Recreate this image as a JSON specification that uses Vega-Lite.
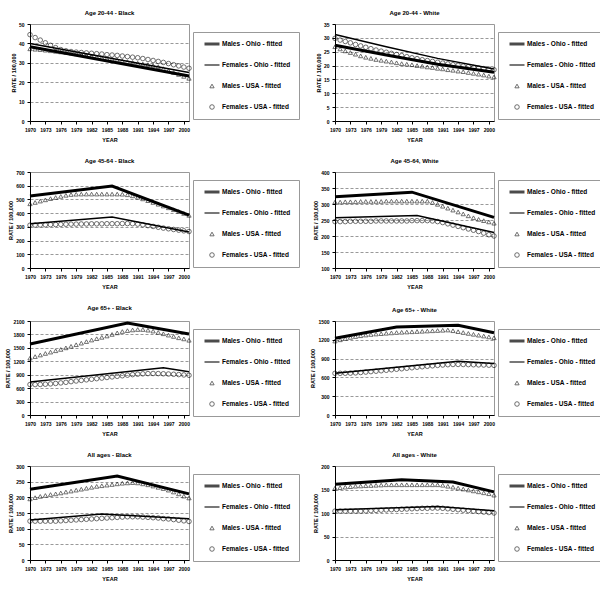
{
  "$schema": "https://vega.github.io/schema/vega-lite/v6.json",
  "padding": {"left": 5, "top": 9, "right": 2, "bottom": 2},
  "columns": 2,
  "spacing": {"row": 14, "column": 10},
  "align": "each",
  "datasets": {
    "ohio": [
      {"p":1,"year":1970,"s":"mo","r":38.3},{"p":1,"year":2001,"s":"mo","r":23.2},
      {"p":1,"year":1970,"s":"fo","r":40.0},{"p":1,"year":2001,"s":"fo","r":25.0},
      {"p":2,"year":1970,"s":"fo","r":31.2},{"p":2,"year":1980,"s":"fo","r":26.8},{"p":2,"year":1990,"s":"fo","r":22.6},{"p":2,"year":2001,"s":"fo","r":18.8},
      {"p":2,"year":1970,"s":"mo","r":27.3},{"p":2,"year":1980,"s":"mo","r":23.8},{"p":2,"year":1990,"s":"mo","r":20.5},{"p":2,"year":2001,"s":"mo","r":17.6},
      {"p":3,"year":1970,"s":"mo","r":525},{"p":3,"year":1986,"s":"mo","r":597},{"p":3,"year":2001,"s":"mo","r":385},
      {"p":3,"year":1970,"s":"fo","r":322},{"p":3,"year":1986,"s":"fo","r":372},{"p":3,"year":2001,"s":"fo","r":262},
      {"p":4,"year":1970,"s":"mo","r":323},{"p":4,"year":1985,"s":"mo","r":337},{"p":4,"year":2001,"s":"mo","r":258},
      {"p":4,"year":1970,"s":"fo","r":257},{"p":4,"year":1986,"s":"fo","r":264},{"p":4,"year":2001,"s":"fo","r":211},
      {"p":5,"year":1970,"s":"mo","r":1585},{"p":5,"year":1989,"s":"mo","r":2055},{"p":5,"year":2001,"s":"mo","r":1810},
      {"p":5,"year":1970,"s":"fo","r":735},{"p":5,"year":1996,"s":"fo","r":1057},{"p":5,"year":2001,"s":"fo","r":965},
      {"p":6,"year":1970,"s":"mo","r":1225},{"p":6,"year":1982,"s":"mo","r":1405},{"p":6,"year":1994,"s":"mo","r":1432},{"p":6,"year":2001,"s":"mo","r":1312},
      {"p":6,"year":1970,"s":"fo","r":668},{"p":6,"year":1994,"s":"fo","r":858},{"p":6,"year":2001,"s":"fo","r":822},
      {"p":7,"year":1970,"s":"mo","r":226},{"p":7,"year":1987,"s":"mo","r":268},{"p":7,"year":2001,"s":"mo","r":211},
      {"p":7,"year":1970,"s":"fo","r":128},{"p":7,"year":1984,"s":"fo","r":147},{"p":7,"year":2001,"s":"fo","r":132},
      {"p":8,"year":1970,"s":"mo","r":161},{"p":8,"year":1983,"s":"mo","r":171},{"p":8,"year":1993,"s":"mo","r":166},{"p":8,"year":2001,"s":"mo","r":145},
      {"p":8,"year":1970,"s":"fo","r":107},{"p":8,"year":1990,"s":"fo","r":114},{"p":8,"year":2001,"s":"fo","r":105}
    ],
    "usa": [
      {"p":1,"year":1970,"mu":37.2,"fu":44.5},{"p":1,"year":1971,"mu":37.0,"fu":43.0},{"p":1,"year":1972,"mu":36.8,"fu":41.7},{"p":1,"year":1973,"mu":36.5,"fu":40.3},
      {"p":1,"year":1974,"mu":36.2,"fu":39.0},{"p":1,"year":1975,"mu":35.9,"fu":37.8},{"p":1,"year":1976,"mu":35.6,"fu":36.8},{"p":1,"year":1977,"mu":35.3,"fu":36.2},
      {"p":1,"year":1978,"mu":35.0,"fu":35.8},{"p":1,"year":1979,"mu":34.6,"fu":35.5},{"p":1,"year":1980,"mu":34.2,"fu":35.3},{"p":1,"year":1981,"mu":33.8,"fu":35.1},
      {"p":1,"year":1982,"mu":33.4,"fu":34.9},{"p":1,"year":1983,"mu":33.0,"fu":34.7},{"p":1,"year":1984,"mu":32.6,"fu":34.5},{"p":1,"year":1985,"mu":32.2,"fu":34.2},
      {"p":1,"year":1986,"mu":31.8,"fu":34.0},{"p":1,"year":1987,"mu":31.4,"fu":33.8},{"p":1,"year":1988,"mu":31.0,"fu":33.5},{"p":1,"year":1989,"mu":30.6,"fu":33.2},
      {"p":1,"year":1990,"mu":30.2,"fu":32.9},{"p":1,"year":1991,"mu":29.8,"fu":32.6},{"p":1,"year":1992,"mu":29.4,"fu":32.2},{"p":1,"year":1993,"mu":29.0,"fu":31.7},
      {"p":1,"year":1994,"mu":28.6,"fu":31.2},{"p":1,"year":1995,"mu":28.0,"fu":30.7},{"p":1,"year":1996,"mu":27.0,"fu":30.2},{"p":1,"year":1997,"mu":26.0,"fu":29.6},
      {"p":1,"year":1998,"mu":25.0,"fu":29.0},{"p":1,"year":1999,"mu":24.0,"fu":28.4},{"p":1,"year":2000,"mu":23.0,"fu":27.8},{"p":1,"year":2001,"mu":22.0,"fu":27.2},

      {"p":2,"year":1970,"mu":26.8,"fu":29.8},{"p":2,"year":1971,"mu":26.0,"fu":29.2},{"p":2,"year":1972,"mu":25.3,"fu":28.7},{"p":2,"year":1973,"mu":24.7,"fu":28.2},
      {"p":2,"year":1974,"mu":24.1,"fu":27.6},{"p":2,"year":1975,"mu":23.5,"fu":27.1},{"p":2,"year":1976,"mu":23.0,"fu":26.6},{"p":2,"year":1977,"mu":22.6,"fu":26.1},
      {"p":2,"year":1978,"mu":22.2,"fu":25.6},{"p":2,"year":1979,"mu":21.9,"fu":25.2},{"p":2,"year":1980,"mu":21.6,"fu":24.8},{"p":2,"year":1981,"mu":21.3,"fu":24.4},
      {"p":2,"year":1982,"mu":21.0,"fu":24.0},{"p":2,"year":1983,"mu":20.7,"fu":23.6},{"p":2,"year":1984,"mu":20.5,"fu":23.2},{"p":2,"year":1985,"mu":20.3,"fu":22.8},
      {"p":2,"year":1986,"mu":20.0,"fu":22.5},{"p":2,"year":1987,"mu":19.8,"fu":22.1},{"p":2,"year":1988,"mu":19.5,"fu":21.8},{"p":2,"year":1989,"mu":19.3,"fu":21.5},
      {"p":2,"year":1990,"mu":19.0,"fu":21.2},{"p":2,"year":1991,"mu":18.8,"fu":20.9},{"p":2,"year":1992,"mu":18.5,"fu":20.6},{"p":2,"year":1993,"mu":18.3,"fu":20.3},
      {"p":2,"year":1994,"mu":18.0,"fu":20.1},{"p":2,"year":1995,"mu":17.8,"fu":19.8},{"p":2,"year":1996,"mu":17.5,"fu":19.6},{"p":2,"year":1997,"mu":17.2,"fu":19.3},
      {"p":2,"year":1998,"mu":16.9,"fu":19.1},{"p":2,"year":1999,"mu":16.6,"fu":18.9},{"p":2,"year":2000,"mu":16.2,"fu":18.7},{"p":2,"year":2001,"mu":15.9,"fu":18.5},

      {"p":3,"year":1970,"mu":468,"fu":312},{"p":3,"year":1971,"mu":478,"fu":313},{"p":3,"year":1972,"mu":488,"fu":314},{"p":3,"year":1973,"mu":497,"fu":315},
      {"p":3,"year":1974,"mu":506,"fu":316},{"p":3,"year":1975,"mu":514,"fu":317},{"p":3,"year":1976,"mu":522,"fu":318},{"p":3,"year":1977,"mu":530,"fu":319},
      {"p":3,"year":1978,"mu":536,"fu":320},{"p":3,"year":1979,"mu":538,"fu":320},{"p":3,"year":1980,"mu":539,"fu":321},{"p":3,"year":1981,"mu":539,"fu":321},
      {"p":3,"year":1982,"mu":539,"fu":322},{"p":3,"year":1983,"mu":539,"fu":322},{"p":3,"year":1984,"mu":539,"fu":322},{"p":3,"year":1985,"mu":539,"fu":323},
      {"p":3,"year":1986,"mu":539,"fu":323},{"p":3,"year":1987,"mu":539,"fu":323},{"p":3,"year":1988,"mu":538,"fu":324},{"p":3,"year":1989,"mu":534,"fu":324},
      {"p":3,"year":1990,"mu":526,"fu":323},{"p":3,"year":1991,"mu":516,"fu":320},{"p":3,"year":1992,"mu":504,"fu":315},{"p":3,"year":1993,"mu":491,"fu":309},
      {"p":3,"year":1994,"mu":478,"fu":303},{"p":3,"year":1995,"mu":465,"fu":297},{"p":3,"year":1996,"mu":452,"fu":291},{"p":3,"year":1997,"mu":439,"fu":286},
      {"p":3,"year":1998,"mu":425,"fu":281},{"p":3,"year":1999,"mu":412,"fu":276},{"p":3,"year":2000,"mu":398,"fu":271},{"p":3,"year":2001,"mu":384,"fu":266},

      {"p":4,"year":1970,"mu":306,"fu":245},{"p":4,"year":1971,"mu":306,"fu":245},{"p":4,"year":1972,"mu":307,"fu":245},{"p":4,"year":1973,"mu":307,"fu":246},
      {"p":4,"year":1974,"mu":307,"fu":246},{"p":4,"year":1975,"mu":308,"fu":246},{"p":4,"year":1976,"mu":308,"fu":246},{"p":4,"year":1977,"mu":308,"fu":246},
      {"p":4,"year":1978,"mu":308,"fu":247},{"p":4,"year":1979,"mu":308,"fu":247},{"p":4,"year":1980,"mu":309,"fu":247},{"p":4,"year":1981,"mu":309,"fu":247},
      {"p":4,"year":1982,"mu":309,"fu":247},{"p":4,"year":1983,"mu":309,"fu":247},{"p":4,"year":1984,"mu":309,"fu":247},{"p":4,"year":1985,"mu":309,"fu":248},
      {"p":4,"year":1986,"mu":309,"fu":248},{"p":4,"year":1987,"mu":309,"fu":248},{"p":4,"year":1988,"mu":309,"fu":248},{"p":4,"year":1989,"mu":305,"fu":247},
      {"p":4,"year":1990,"mu":299,"fu":245},{"p":4,"year":1991,"mu":293,"fu":242},{"p":4,"year":1992,"mu":287,"fu":238},{"p":4,"year":1993,"mu":281,"fu":234},
      {"p":4,"year":1994,"mu":275,"fu":230},{"p":4,"year":1995,"mu":269,"fu":226},{"p":4,"year":1996,"mu":263,"fu":222},{"p":4,"year":1997,"mu":257,"fu":218},
      {"p":4,"year":1998,"mu":252,"fu":214},{"p":4,"year":1999,"mu":248,"fu":209},{"p":4,"year":2000,"mu":244,"fu":204},{"p":4,"year":2001,"mu":240,"fu":200},

      {"p":5,"year":1970,"mu":1270,"fu":680},{"p":5,"year":1971,"mu":1305,"fu":680},{"p":5,"year":1972,"mu":1340,"fu":683},{"p":5,"year":1973,"mu":1375,"fu":688},
      {"p":5,"year":1974,"mu":1405,"fu":695},{"p":5,"year":1975,"mu":1435,"fu":705},{"p":5,"year":1976,"mu":1465,"fu":717},{"p":5,"year":1977,"mu":1500,"fu":730},
      {"p":5,"year":1978,"mu":1535,"fu":745},{"p":5,"year":1979,"mu":1570,"fu":760},{"p":5,"year":1980,"mu":1605,"fu":773},{"p":5,"year":1981,"mu":1640,"fu":786},
      {"p":5,"year":1982,"mu":1675,"fu":799},{"p":5,"year":1983,"mu":1705,"fu":812},{"p":5,"year":1984,"mu":1735,"fu":825},{"p":5,"year":1985,"mu":1765,"fu":838},
      {"p":5,"year":1986,"mu":1800,"fu":851},{"p":5,"year":1987,"mu":1835,"fu":864},{"p":5,"year":1988,"mu":1865,"fu":877},{"p":5,"year":1989,"mu":1885,"fu":890},
      {"p":5,"year":1990,"mu":1900,"fu":902},{"p":5,"year":1991,"mu":1910,"fu":912},{"p":5,"year":1992,"mu":1910,"fu":920},{"p":5,"year":1993,"mu":1895,"fu":925},
      {"p":5,"year":1994,"mu":1875,"fu":927},{"p":5,"year":1995,"mu":1845,"fu":925},{"p":5,"year":1996,"mu":1815,"fu":921},{"p":5,"year":1997,"mu":1785,"fu":916},
      {"p":5,"year":1998,"mu":1755,"fu":910},{"p":5,"year":1999,"mu":1725,"fu":903},{"p":5,"year":2000,"mu":1700,"fu":895},{"p":5,"year":2001,"mu":1670,"fu":887},

      {"p":6,"year":1970,"mu":1180,"fu":665},{"p":6,"year":1971,"mu":1200,"fu":665},{"p":6,"year":1972,"mu":1220,"fu":666},{"p":6,"year":1973,"mu":1238,"fu":668},
      {"p":6,"year":1974,"mu":1252,"fu":672},{"p":6,"year":1975,"mu":1265,"fu":678},{"p":6,"year":1976,"mu":1276,"fu":685},{"p":6,"year":1977,"mu":1285,"fu":692},
      {"p":6,"year":1978,"mu":1292,"fu":699},{"p":6,"year":1979,"mu":1298,"fu":706},{"p":6,"year":1980,"mu":1304,"fu":714},{"p":6,"year":1981,"mu":1310,"fu":722},
      {"p":6,"year":1982,"mu":1316,"fu":730},{"p":6,"year":1983,"mu":1320,"fu":738},{"p":6,"year":1984,"mu":1324,"fu":746},{"p":6,"year":1985,"mu":1328,"fu":754},
      {"p":6,"year":1986,"mu":1332,"fu":762},{"p":6,"year":1987,"mu":1336,"fu":770},{"p":6,"year":1988,"mu":1340,"fu":778},{"p":6,"year":1989,"mu":1344,"fu":785},
      {"p":6,"year":1990,"mu":1348,"fu":792},{"p":6,"year":1991,"mu":1352,"fu":798},{"p":6,"year":1992,"mu":1356,"fu":803},{"p":6,"year":1993,"mu":1345,"fu":806},
      {"p":6,"year":1994,"mu":1330,"fu":807},{"p":6,"year":1995,"mu":1316,"fu":806},{"p":6,"year":1996,"mu":1302,"fu":804},{"p":6,"year":1997,"mu":1288,"fu":802},
      {"p":6,"year":1998,"mu":1274,"fu":800},{"p":6,"year":1999,"mu":1260,"fu":798},{"p":6,"year":2000,"mu":1246,"fu":795},{"p":6,"year":2001,"mu":1232,"fu":792},

      {"p":7,"year":1970,"mu":195,"fu":124},{"p":7,"year":1971,"mu":199,"fu":124},{"p":7,"year":1972,"mu":203,"fu":124},{"p":7,"year":1973,"mu":206,"fu":124},
      {"p":7,"year":1974,"mu":209,"fu":124},{"p":7,"year":1975,"mu":211,"fu":124},{"p":7,"year":1976,"mu":214,"fu":125},{"p":7,"year":1977,"mu":217,"fu":126},
      {"p":7,"year":1978,"mu":220,"fu":127},{"p":7,"year":1979,"mu":223,"fu":128},{"p":7,"year":1980,"mu":226,"fu":129},{"p":7,"year":1981,"mu":229,"fu":130},
      {"p":7,"year":1982,"mu":232,"fu":131},{"p":7,"year":1983,"mu":235,"fu":132},{"p":7,"year":1984,"mu":237,"fu":133},{"p":7,"year":1985,"mu":239,"fu":134},
      {"p":7,"year":1986,"mu":241,"fu":135},{"p":7,"year":1987,"mu":243,"fu":136},{"p":7,"year":1988,"mu":245,"fu":137},{"p":7,"year":1989,"mu":246,"fu":138},
      {"p":7,"year":1990,"mu":247,"fu":138},{"p":7,"year":1991,"mu":246,"fu":138},{"p":7,"year":1992,"mu":243,"fu":137},{"p":7,"year":1993,"mu":240,"fu":136},
      {"p":7,"year":1994,"mu":236,"fu":135},{"p":7,"year":1995,"mu":232,"fu":134},{"p":7,"year":1996,"mu":228,"fu":132},{"p":7,"year":1997,"mu":223,"fu":131},
      {"p":7,"year":1998,"mu":217,"fu":129},{"p":7,"year":1999,"mu":211,"fu":127},{"p":7,"year":2000,"mu":204,"fu":125},{"p":7,"year":2001,"mu":198,"fu":123},

      {"p":8,"year":1970,"mu":153,"fu":104},{"p":8,"year":1971,"mu":154,"fu":104},{"p":8,"year":1972,"mu":155,"fu":104},{"p":8,"year":1973,"mu":156,"fu":104},
      {"p":8,"year":1974,"mu":157,"fu":104},{"p":8,"year":1975,"mu":157.5,"fu":104},{"p":8,"year":1976,"mu":158,"fu":104.5},{"p":8,"year":1977,"mu":158.5,"fu":105},
      {"p":8,"year":1978,"mu":159,"fu":105.5},{"p":8,"year":1979,"mu":159.5,"fu":106},{"p":8,"year":1980,"mu":160,"fu":106.5},{"p":8,"year":1981,"mu":160,"fu":107},
      {"p":8,"year":1982,"mu":160,"fu":107.5},{"p":8,"year":1983,"mu":160,"fu":108},{"p":8,"year":1984,"mu":160,"fu":108.5},{"p":8,"year":1985,"mu":160,"fu":109},
      {"p":8,"year":1986,"mu":160,"fu":109.5},{"p":8,"year":1987,"mu":160,"fu":110},{"p":8,"year":1988,"mu":160,"fu":110},{"p":8,"year":1989,"mu":160,"fu":110.5},
      {"p":8,"year":1990,"mu":160,"fu":110.5},{"p":8,"year":1991,"mu":159,"fu":110},{"p":8,"year":1992,"mu":157,"fu":109},{"p":8,"year":1993,"mu":155,"fu":108},
      {"p":8,"year":1994,"mu":153,"fu":107},{"p":8,"year":1995,"mu":151,"fu":106},{"p":8,"year":1996,"mu":149,"fu":105},{"p":8,"year":1997,"mu":147,"fu":104},
      {"p":8,"year":1998,"mu":145,"fu":103},{"p":8,"year":1999,"mu":143,"fu":102},{"p":8,"year":2000,"mu":141,"fu":101},{"p":8,"year":2001,"mu":138,"fu":100}
    ]
  },
  "concat": [
    {
      "title": "Age 20-44 - Black", "width": 159, "height": 97,
      "encoding": {
        "x": {"field": "year", "type": "quantitative", "title": "YEAR", "scale": {"domain": [1970, 2001], "nice": false, "zero": false}, "axis": {"values": [1970,1973,1976,1979,1982,1985,1988,1991,1994,1997,2000], "format": "d"}},
        "y": {"field": "r", "type": "quantitative", "title": "RATE / 100,000", "scale": {"domain": [0, 50], "nice": false}, "axis": {"values": [0,10,20,30,40,50], "format": "d"}}
      },
      "layer": [
        {"data": {"name": "ohio"}, "transform": [{"filter": "datum.p == 1"}], "mark": {"type": "line", "color": "black"},
         "encoding": {"strokeWidth": {"field": "s", "type": "nominal", "scale": {"type": "ordinal", "domain": ["mo","fo","mu","fu"], "range": [3,1.5,0.8,0.8]}, "legend": {"title": null, "orient": "none", "legendX": 163, "legendY": 8, "labelExpr": "{'mo':'Males - Ohio - fitted','fo':'Females - Ohio - fitted','mu':'Males - USA - fitted','fu':'Females - USA - fitted'}[datum.label]"}}}},
        {"data": {"name": "usa"}, "transform": [{"filter": "datum.p == 1"}, {"fold": ["mu","fu"], "as": ["s","r"]}], "mark": {"type": "point", "filled": false, "color": "black", "strokeWidth": 0.8},
         "encoding": {
           "shape": {"field": "s", "type": "nominal", "scale": {"domain": ["mo","fo","mu","fu"], "range": ["stroke","stroke","triangle-up","circle"]}, "legend": {"title": null, "orient": "none", "legendX": 163, "legendY": 8, "labelExpr": "{'mo':'Males - Ohio - fitted','fo':'Females - Ohio - fitted','mu':'Males - USA - fitted','fu':'Females - USA - fitted'}[datum.label]"}},
           "size": {"field": "s", "type": "nominal", "scale": {"type": "ordinal", "domain": ["mo","fo","mu","fu"], "range": [225,225,18,21]}, "legend": {"title": null, "orient": "none", "legendX": 163, "legendY": 8, "labelExpr": "{'mo':'Males - Ohio - fitted','fo':'Females - Ohio - fitted','mu':'Males - USA - fitted','fu':'Females - USA - fitted'}[datum.label]"}}
         }}
      ]
    },
    {
      "title": "Age 20-44 - White", "width": 159, "height": 97,
      "encoding": {
        "x": {"field": "year", "type": "quantitative", "title": "YEAR", "scale": {"domain": [1970, 2001], "nice": false, "zero": false}, "axis": {"values": [1970,1973,1976,1979,1982,1985,1988,1991,1994,1997,2000], "format": "d"}},
        "y": {"field": "r", "type": "quantitative", "title": "RATE / 100,000", "scale": {"domain": [0, 35], "nice": false}, "axis": {"values": [0,5,10,15,20,25,30,35], "format": "d"}}
      },
      "layer": [
        {"data": {"name": "ohio"}, "transform": [{"filter": "datum.p == 2"}], "mark": {"type": "line", "color": "black"},
         "encoding": {"strokeWidth": {"field": "s", "type": "nominal", "scale": {"type": "ordinal", "domain": ["mo","fo","mu","fu"], "range": [3,1.5,0.8,0.8]}, "legend": {"title": null, "orient": "none", "legendX": 163, "legendY": 8, "labelExpr": "{'mo':'Males - Ohio - fitted','fo':'Females - Ohio - fitted','mu':'Males - USA - fitted','fu':'Females - USA - fitted'}[datum.label]"}}}},
        {"data": {"name": "usa"}, "transform": [{"filter": "datum.p == 2"}, {"fold": ["mu","fu"], "as": ["s","r"]}], "mark": {"type": "point", "filled": false, "color": "black", "strokeWidth": 0.8},
         "encoding": {
           "shape": {"field": "s", "type": "nominal", "scale": {"domain": ["mo","fo","mu","fu"], "range": ["stroke","stroke","triangle-up","circle"]}, "legend": {"title": null, "orient": "none", "legendX": 163, "legendY": 8, "labelExpr": "{'mo':'Males - Ohio - fitted','fo':'Females - Ohio - fitted','mu':'Males - USA - fitted','fu':'Females - USA - fitted'}[datum.label]"}},
           "size": {"field": "s", "type": "nominal", "scale": {"type": "ordinal", "domain": ["mo","fo","mu","fu"], "range": [225,225,18,21]}, "legend": {"title": null, "orient": "none", "legendX": 163, "legendY": 8, "labelExpr": "{'mo':'Males - Ohio - fitted','fo':'Females - Ohio - fitted','mu':'Males - USA - fitted','fu':'Females - USA - fitted'}[datum.label]"}}
         }}
      ]
    },
    {
      "title": "Age 45-64 - Black", "width": 159, "height": 96,
      "encoding": {
        "x": {"field": "year", "type": "quantitative", "title": "YEAR", "scale": {"domain": [1970, 2001], "nice": false, "zero": false}, "axis": {"values": [1970,1973,1976,1979,1982,1985,1988,1991,1994,1997,2000], "format": "d"}},
        "y": {"field": "r", "type": "quantitative", "title": "RATE / 100,000", "scale": {"domain": [0, 700], "nice": false}, "axis": {"values": [0,100,200,300,400,500,600,700], "format": "d"}}
      },
      "layer": [
        {"data": {"name": "ohio"}, "transform": [{"filter": "datum.p == 3"}], "mark": {"type": "line", "color": "black"},
         "encoding": {"strokeWidth": {"field": "s", "type": "nominal", "scale": {"type": "ordinal", "domain": ["mo","fo","mu","fu"], "range": [3,1.5,0.8,0.8]}, "legend": {"title": null, "orient": "none", "legendX": 163, "legendY": 8, "labelExpr": "{'mo':'Males - Ohio - fitted','fo':'Females - Ohio - fitted','mu':'Males - USA - fitted','fu':'Females - USA - fitted'}[datum.label]"}}}},
        {"data": {"name": "usa"}, "transform": [{"filter": "datum.p == 3"}, {"fold": ["mu","fu"], "as": ["s","r"]}], "mark": {"type": "point", "filled": false, "color": "black", "strokeWidth": 0.8},
         "encoding": {
           "shape": {"field": "s", "type": "nominal", "scale": {"domain": ["mo","fo","mu","fu"], "range": ["stroke","stroke","triangle-up","circle"]}, "legend": {"title": null, "orient": "none", "legendX": 163, "legendY": 8, "labelExpr": "{'mo':'Males - Ohio - fitted','fo':'Females - Ohio - fitted','mu':'Males - USA - fitted','fu':'Females - USA - fitted'}[datum.label]"}},
           "size": {"field": "s", "type": "nominal", "scale": {"type": "ordinal", "domain": ["mo","fo","mu","fu"], "range": [225,225,18,21]}, "legend": {"title": null, "orient": "none", "legendX": 163, "legendY": 8, "labelExpr": "{'mo':'Males - Ohio - fitted','fo':'Females - Ohio - fitted','mu':'Males - USA - fitted','fu':'Females - USA - fitted'}[datum.label]"}}
         }}
      ]
    },
    {
      "title": "Age 45-64, White", "width": 159, "height": 96,
      "encoding": {
        "x": {"field": "year", "type": "quantitative", "title": "YEAR", "scale": {"domain": [1970, 2001], "nice": false, "zero": false}, "axis": {"values": [1970,1973,1976,1979,1982,1985,1988,1991,1994,1997,2000], "format": "d"}},
        "y": {"field": "r", "type": "quantitative", "title": "RATE / 100,000", "scale": {"domain": [100, 400], "nice": false, "zero": false}, "axis": {"values": [100,150,200,250,300,350,400], "format": "d"}}
      },
      "layer": [
        {"data": {"name": "ohio"}, "transform": [{"filter": "datum.p == 4"}], "mark": {"type": "line", "color": "black"},
         "encoding": {"strokeWidth": {"field": "s", "type": "nominal", "scale": {"type": "ordinal", "domain": ["mo","fo","mu","fu"], "range": [3,1.5,0.8,0.8]}, "legend": {"title": null, "orient": "none", "legendX": 163, "legendY": 8, "labelExpr": "{'mo':'Males - Ohio - fitted','fo':'Females - Ohio - fitted','mu':'Males - USA - fitted','fu':'Females - USA - fitted'}[datum.label]"}}}},
        {"data": {"name": "usa"}, "transform": [{"filter": "datum.p == 4"}, {"fold": ["mu","fu"], "as": ["s","r"]}], "mark": {"type": "point", "filled": false, "color": "black", "strokeWidth": 0.8},
         "encoding": {
           "shape": {"field": "s", "type": "nominal", "scale": {"domain": ["mo","fo","mu","fu"], "range": ["stroke","stroke","triangle-up","circle"]}, "legend": {"title": null, "orient": "none", "legendX": 163, "legendY": 8, "labelExpr": "{'mo':'Males - Ohio - fitted','fo':'Females - Ohio - fitted','mu':'Males - USA - fitted','fu':'Females - USA - fitted'}[datum.label]"}},
           "size": {"field": "s", "type": "nominal", "scale": {"type": "ordinal", "domain": ["mo","fo","mu","fu"], "range": [225,225,18,21]}, "legend": {"title": null, "orient": "none", "legendX": 163, "legendY": 8, "labelExpr": "{'mo':'Males - Ohio - fitted','fo':'Females - Ohio - fitted','mu':'Males - USA - fitted','fu':'Females - USA - fitted'}[datum.label]"}}
         }}
      ]
    },
    {
      "title": "Age 65+ - Black", "width": 159, "height": 94,
      "encoding": {
        "x": {"field": "year", "type": "quantitative", "title": "YEAR", "scale": {"domain": [1970, 2001], "nice": false, "zero": false}, "axis": {"values": [1970,1973,1976,1979,1982,1985,1988,1991,1994,1997,2000], "format": "d"}},
        "y": {"field": "r", "type": "quantitative", "title": "RATE / 100,000", "scale": {"domain": [0, 2100], "nice": false}, "axis": {"values": [0,300,600,900,1200,1500,1800,2100], "format": "d"}}
      },
      "layer": [
        {"data": {"name": "ohio"}, "transform": [{"filter": "datum.p == 5"}], "mark": {"type": "line", "color": "black"},
         "encoding": {"strokeWidth": {"field": "s", "type": "nominal", "scale": {"type": "ordinal", "domain": ["mo","fo","mu","fu"], "range": [3,1.5,0.8,0.8]}, "legend": {"title": null, "orient": "none", "legendX": 163, "legendY": 8, "labelExpr": "{'mo':'Males - Ohio - fitted','fo':'Females - Ohio - fitted','mu':'Males - USA - fitted','fu':'Females - USA - fitted'}[datum.label]"}}}},
        {"data": {"name": "usa"}, "transform": [{"filter": "datum.p == 5"}, {"fold": ["mu","fu"], "as": ["s","r"]}], "mark": {"type": "point", "filled": false, "color": "black", "strokeWidth": 0.8},
         "encoding": {
           "shape": {"field": "s", "type": "nominal", "scale": {"domain": ["mo","fo","mu","fu"], "range": ["stroke","stroke","triangle-up","circle"]}, "legend": {"title": null, "orient": "none", "legendX": 163, "legendY": 8, "labelExpr": "{'mo':'Males - Ohio - fitted','fo':'Females - Ohio - fitted','mu':'Males - USA - fitted','fu':'Females - USA - fitted'}[datum.label]"}},
           "size": {"field": "s", "type": "nominal", "scale": {"type": "ordinal", "domain": ["mo","fo","mu","fu"], "range": [225,225,18,21]}, "legend": {"title": null, "orient": "none", "legendX": 163, "legendY": 8, "labelExpr": "{'mo':'Males - Ohio - fitted','fo':'Females - Ohio - fitted','mu':'Males - USA - fitted','fu':'Females - USA - fitted'}[datum.label]"}}
         }}
      ]
    },
    {
      "title": "Age 65+ - White", "width": 159, "height": 94,
      "encoding": {
        "x": {"field": "year", "type": "quantitative", "title": "YEAR", "scale": {"domain": [1970, 2001], "nice": false, "zero": false}, "axis": {"values": [1970,1973,1976,1979,1982,1985,1988,1991,1994,1997,2000], "format": "d"}},
        "y": {"field": "r", "type": "quantitative", "title": "RATE / 100,000", "scale": {"domain": [0, 1500], "nice": false}, "axis": {"values": [0,300,600,900,1200,1500], "format": "d"}}
      },
      "layer": [
        {"data": {"name": "ohio"}, "transform": [{"filter": "datum.p == 6"}], "mark": {"type": "line", "color": "black"},
         "encoding": {"strokeWidth": {"field": "s", "type": "nominal", "scale": {"type": "ordinal", "domain": ["mo","fo","mu","fu"], "range": [3,1.5,0.8,0.8]}, "legend": {"title": null, "orient": "none", "legendX": 163, "legendY": 8, "labelExpr": "{'mo':'Males - Ohio - fitted','fo':'Females - Ohio - fitted','mu':'Males - USA - fitted','fu':'Females - USA - fitted'}[datum.label]"}}}},
        {"data": {"name": "usa"}, "transform": [{"filter": "datum.p == 6"}, {"fold": ["mu","fu"], "as": ["s","r"]}], "mark": {"type": "point", "filled": false, "color": "black", "strokeWidth": 0.8},
         "encoding": {
           "shape": {"field": "s", "type": "nominal", "scale": {"domain": ["mo","fo","mu","fu"], "range": ["stroke","stroke","triangle-up","circle"]}, "legend": {"title": null, "orient": "none", "legendX": 163, "legendY": 8, "labelExpr": "{'mo':'Males - Ohio - fitted','fo':'Females - Ohio - fitted','mu':'Males - USA - fitted','fu':'Females - USA - fitted'}[datum.label]"}},
           "size": {"field": "s", "type": "nominal", "scale": {"type": "ordinal", "domain": ["mo","fo","mu","fu"], "range": [225,225,18,21]}, "legend": {"title": null, "orient": "none", "legendX": 163, "legendY": 8, "labelExpr": "{'mo':'Males - Ohio - fitted','fo':'Females - Ohio - fitted','mu':'Males - USA - fitted','fu':'Females - USA - fitted'}[datum.label]"}}
         }}
      ]
    },
    {
      "title": "All ages - Black", "width": 159, "height": 94,
      "encoding": {
        "x": {"field": "year", "type": "quantitative", "title": "YEAR", "scale": {"domain": [1970, 2001], "nice": false, "zero": false}, "axis": {"values": [1970,1973,1976,1979,1982,1985,1988,1991,1994,1997,2000], "format": "d"}},
        "y": {"field": "r", "type": "quantitative", "title": "RATE / 100,000", "scale": {"domain": [0, 300], "nice": false}, "axis": {"values": [0,50,100,150,200,250,300], "format": "d"}}
      },
      "layer": [
        {"data": {"name": "ohio"}, "transform": [{"filter": "datum.p == 7"}], "mark": {"type": "line", "color": "black"},
         "encoding": {"strokeWidth": {"field": "s", "type": "nominal", "scale": {"type": "ordinal", "domain": ["mo","fo","mu","fu"], "range": [3,1.5,0.8,0.8]}, "legend": {"title": null, "orient": "none", "legendX": 163, "legendY": 8, "labelExpr": "{'mo':'Males - Ohio - fitted','fo':'Females - Ohio - fitted','mu':'Males - USA - fitted','fu':'Females - USA - fitted'}[datum.label]"}}}},
        {"data": {"name": "usa"}, "transform": [{"filter": "datum.p == 7"}, {"fold": ["mu","fu"], "as": ["s","r"]}], "mark": {"type": "point", "filled": false, "color": "black", "strokeWidth": 0.8},
         "encoding": {
           "shape": {"field": "s", "type": "nominal", "scale": {"domain": ["mo","fo","mu","fu"], "range": ["stroke","stroke","triangle-up","circle"]}, "legend": {"title": null, "orient": "none", "legendX": 163, "legendY": 8, "labelExpr": "{'mo':'Males - Ohio - fitted','fo':'Females - Ohio - fitted','mu':'Males - USA - fitted','fu':'Females - USA - fitted'}[datum.label]"}},
           "size": {"field": "s", "type": "nominal", "scale": {"type": "ordinal", "domain": ["mo","fo","mu","fu"], "range": [225,225,18,21]}, "legend": {"title": null, "orient": "none", "legendX": 163, "legendY": 8, "labelExpr": "{'mo':'Males - Ohio - fitted','fo':'Females - Ohio - fitted','mu':'Males - USA - fitted','fu':'Females - USA - fitted'}[datum.label]"}}
         }}
      ]
    },
    {
      "title": "All ages - White", "width": 159, "height": 94,
      "encoding": {
        "x": {"field": "year", "type": "quantitative", "title": "YEAR", "scale": {"domain": [1970, 2001], "nice": false, "zero": false}, "axis": {"values": [1970,1973,1976,1979,1982,1985,1988,1991,1994,1997,2000], "format": "d"}},
        "y": {"field": "r", "type": "quantitative", "title": "RATE / 100,000", "scale": {"domain": [0, 200], "nice": false}, "axis": {"values": [0,50,100,150,200], "format": "d"}}
      },
      "layer": [
        {"data": {"name": "ohio"}, "transform": [{"filter": "datum.p == 8"}], "mark": {"type": "line", "color": "black"},
         "encoding": {"strokeWidth": {"field": "s", "type": "nominal", "scale": {"type": "ordinal", "domain": ["mo","fo","mu","fu"], "range": [3,1.5,0.8,0.8]}, "legend": {"title": null, "orient": "none", "legendX": 163, "legendY": 8, "labelExpr": "{'mo':'Males - Ohio - fitted','fo':'Females - Ohio - fitted','mu':'Males - USA - fitted','fu':'Females - USA - fitted'}[datum.label]"}}}},
        {"data": {"name": "usa"}, "transform": [{"filter": "datum.p == 8"}, {"fold": ["mu","fu"], "as": ["s","r"]}], "mark": {"type": "point", "filled": false, "color": "black", "strokeWidth": 0.8},
         "encoding": {
           "shape": {"field": "s", "type": "nominal", "scale": {"domain": ["mo","fo","mu","fu"], "range": ["stroke","stroke","triangle-up","circle"]}, "legend": {"title": null, "orient": "none", "legendX": 163, "legendY": 8, "labelExpr": "{'mo':'Males - Ohio - fitted','fo':'Females - Ohio - fitted','mu':'Males - USA - fitted','fu':'Females - USA - fitted'}[datum.label]"}},
           "size": {"field": "s", "type": "nominal", "scale": {"type": "ordinal", "domain": ["mo","fo","mu","fu"], "range": [225,225,18,21]}, "legend": {"title": null, "orient": "none", "legendX": 163, "legendY": 8, "labelExpr": "{'mo':'Males - Ohio - fitted','fo':'Females - Ohio - fitted','mu':'Males - USA - fitted','fu':'Females - USA - fitted'}[datum.label]"}}
         }}
      ]
    }
  ],
  "resolve": {
    "scale": {"shape": "independent", "size": "independent", "strokeWidth": "independent"},
    "legend": {"shape": "independent", "size": "independent", "strokeWidth": "independent"}
  },
  "config": {
    "font": "Liberation Sans",
    "view": {"stroke": "#999999", "strokeWidth": 1},
    "title": {"font": "Liberation Sans", "fontSize": 6, "fontWeight": "bold", "color": "black", "offset": 6},
    "axis": {
      "labelFont": "Liberation Sans", "labelFontSize": 5, "labelFontWeight": "bold", "labelColor": "black",
      "titleFont": "Liberation Sans", "titleFontSize": 5.5, "titleFontWeight": "bold", "titleColor": "black",
      "domainColor": "black", "tickColor": "black", "tickSize": 3, "labelOverlap": false
    },
    "axisX": {"grid": false, "labelPadding": 3, "titlePadding": 5, "labelFlush": false},
    "axisY": {"grid": true, "gridColor": "#999999", "gridDash": [3, 2], "labelPadding": 3, "titlePadding": 2},
    "legend": {
      "padding": 8, "strokeColor": "#999999", "clipHeight": 8, "rowPadding": 13,
      "labelFont": "Liberation Sans", "labelFontSize": 6.5, "labelFontWeight": "bold", "labelColor": "black",
      "labelOffset": 1, "symbolOffset": 2, "symbolStrokeColor": "black"
    }
  }
}
